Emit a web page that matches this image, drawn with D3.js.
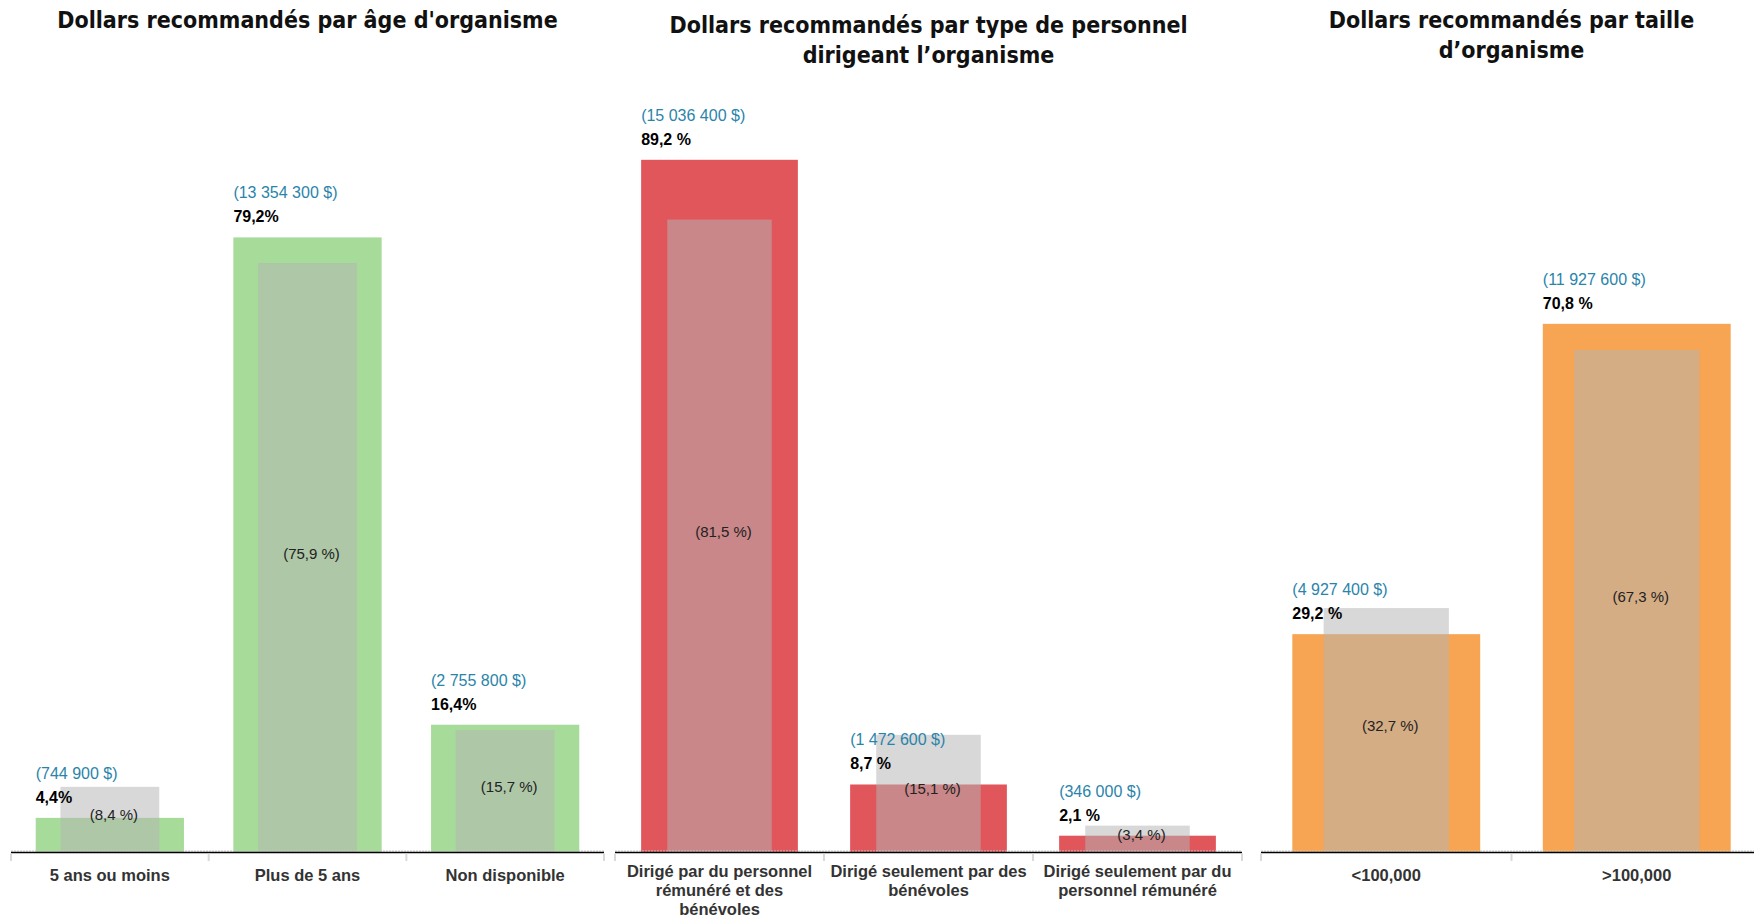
<!DOCTYPE html>
<html>
<head>
<meta charset="utf-8">
<script src="https://cdn.jsdelivr.net/npm/d3@7"></script>
<style>
  body { margin: 0; background: #fff; }
  svg { display: block; }
  .title { font-family: "DejaVu Sans Condensed", "DejaVu Sans", sans-serif; font-weight: bold; font-size: 23px; fill: #111; }
  .cat { font-family: "Liberation Sans", Arial, sans-serif; font-weight: bold; font-size: 16.5px; fill: #333; }
  .money { font-family: "Liberation Sans", Arial, sans-serif; font-size: 16px; fill: #2a84aa; }
  .pct { font-family: "Liberation Sans", Arial, sans-serif; font-weight: bold; font-size: 16px; fill: #000; }
  .inner { font-family: "Liberation Sans", Arial, sans-serif; font-size: 15px; fill: #222; }
</style>
</head>
<body>
<div id="chart"></div>
<script>
// --- data ---
const ageCats = ["5 ans ou moins", "Plus de 5 ans", "Non disponible"];
const ageShare = [4.4, 79.2, 16.4];
const ageDollars = [744900, 13354300, 2755800];
const ageCompare = [8.4, 75.9, 15.7];

const staffCats = ["Dirigé par du personnel\nrémunéré et des\nbénévoles", "Dirigé seulement par des\nbénévoles", "Dirigé seulement par du\npersonnel rémunéré"];
const staffShare = [89.2, 8.7, 2.1];
const staffDollars = [15036400, 1472600, 346000];
const staffCompare = [81.5, 15.1, 3.4];

const sizeCats = ["<100,000", ">100,000"];
const sizeShare = [29.2, 70.8];
const sizeDollars = [4927400, 11927600];
const sizeCompare = [32.7, 67.3];

const titles = [
  ["Dollars recommandés par âge d'organisme"],
  ["Dollars recommandés par type de personnel", "dirigeant l’organisme"],
  ["Dollars recommandés par taille", "d’organisme"]
];

const width = 1754, height = 917;
const baseY = 852;

const locale = d3.formatLocale({decimal: ",", thousands: " ", grouping: [3], currency: ["", " $"]});
const fmtMoney = locale.format(",");
const fmtPct = locale.format(".1f");

const panels = [
  {title: titles[0], titleY: 28, cats: ageCats, share: ageShare, dollars: ageDollars, compare: ageCompare,
   color: "#a6db9a", x0: 11, x1: 604, top: 76, sep: ""},
  {title: titles[1], titleY: 33, cats: staffCats, share: staffShare, dollars: staffDollars, compare: staffCompare,
   color: "#e0565a", x0: 615, x1: 1242, top: 76, sep: " "},
  {title: titles[2], titleY: 28, cats: sizeCats, share: sizeShare, dollars: sizeDollars, compare: sizeCompare,
   color: "#f7a553", x0: 1261, x1: 1762, top: 106, sep: " "}
];

let svg = d3.select("#chart").append("svg")
  .attr("width", width)
  .attr("height", height);

panels.forEach(function(p) {
  let g = svg.append("g");
  let x = d3.scaleBand().domain(p.cats).range([p.x0, p.x1]).paddingInner(0.25).paddingOuter(0.125);
  let y = d3.scaleLinear().domain([0, 100]).range([baseY, p.top]);
  let step = x.step();
  let grayW = x.bandwidth() * 2 / 3;

  // title
  let cx = (p.x0 + p.x1) / 2;
  g.append("text")
    .attr("class", "title")
    .attr("text-anchor", "middle")
    .selectAll("tspan")
    .data(p.title)
    .enter().append("tspan")
    .attr("x", cx)
    .attr("y", function(d, i) { return p.titleY + i * 30; })
    .text(function(d) { return d; });

  let rows = p.cats.map(function(c, i) {
    return {cat: c, share: p.share[i], dollars: p.dollars[i], compare: p.compare[i]};
  });

  // main bars
  g.selectAll("rect.bar")
    .data(rows)
    .enter().append("rect")
    .attr("class", "bar")
    .attr("x", function(d) { return x(d.cat); })
    .attr("width", x.bandwidth())
    .attr("y", function(d) { return y(d.share); })
    .attr("height", function(d) { return baseY - y(d.share); })
    .style("fill", p.color);

  // comparison bars (semi transparent gray)
  g.selectAll("rect.cmp")
    .data(rows)
    .enter().append("rect")
    .attr("class", "cmp")
    .attr("x", function(d) { return x(d.cat) + (x.bandwidth() - grayW) / 2; })
    .attr("width", grayW)
    .attr("y", function(d) { return y(d.compare); })
    .attr("height", function(d) { return baseY - y(d.compare); })
    .style("fill", "#b5b5b5")
    .style("fill-opacity", 0.52);

  // axis
  g.append("line")
    .attr("x1", p.x0).attr("x2", p.x1)
    .attr("y1", baseY - 1).attr("y2", baseY - 1)
    .style("stroke", "#c8c8c8").style("stroke-width", 1).style("stroke-dasharray", "2,1");
  g.append("line")
    .attr("x1", p.x0).attr("x2", p.x1)
    .attr("y1", baseY + 0.5).attr("y2", baseY + 0.5)
    .style("stroke", "#000").style("stroke-width", 1.5);
  g.selectAll("line.tick")
    .data(d3.range(p.cats.length + 1))
    .enter().append("line")
    .attr("class", "tick")
    .attr("x1", function(i) { return p.x0 + i * step; })
    .attr("x2", function(i) { return p.x0 + i * step; })
    .attr("y1", baseY + 1.5).attr("y2", baseY + 9)
    .style("stroke", "#d9d9d9").style("stroke-width", 2);

  // labels above bars
  g.selectAll("text.money")
    .data(rows)
    .enter().append("text")
    .attr("class", "money")
    .attr("x", function(d) { return x(d.cat); })
    .attr("y", function(d) { return y(d.share) - 39; })
    .text(function(d) { return "(" + fmtMoney(d.dollars) + " $)"; });

  g.selectAll("text.pct")
    .data(rows)
    .enter().append("text")
    .attr("class", "pct")
    .attr("x", function(d) { return x(d.cat); })
    .attr("y", function(d) { return y(d.share) - 15; })
    .text(function(d) { return fmtPct(d.share) + p.sep + "%"; });

  // comparison labels inside gray bars
  g.selectAll("text.inner")
    .data(rows)
    .enter().append("text")
    .attr("class", "inner")
    .attr("text-anchor", "middle")
    .attr("x", function(d) { return x(d.cat) + x.bandwidth() / 2 + 4; })
    .attr("y", function(d) { return (y(d.compare) + baseY) / 2 + 1; })
    .text(function(d) { return "(" + fmtPct(d.compare) + " %)"; });

  // category labels
  g.selectAll("text.cat")
    .data(rows)
    .enter().append("text")
    .attr("class", "cat")
    .attr("text-anchor", "middle")
    .each(function(d) {
      let t = d3.select(this);
      let lines = d.cat.split("\n");
      let y0 = lines.length > 1 ? 877 : 881;
      lines.forEach(function(line, i) {
        t.append("tspan")
          .attr("x", x(d.cat) + x.bandwidth() / 2)
          .attr("y", y0 + i * 19)
          .text(line);
      });
    });
});
</script>
</body>
</html>
